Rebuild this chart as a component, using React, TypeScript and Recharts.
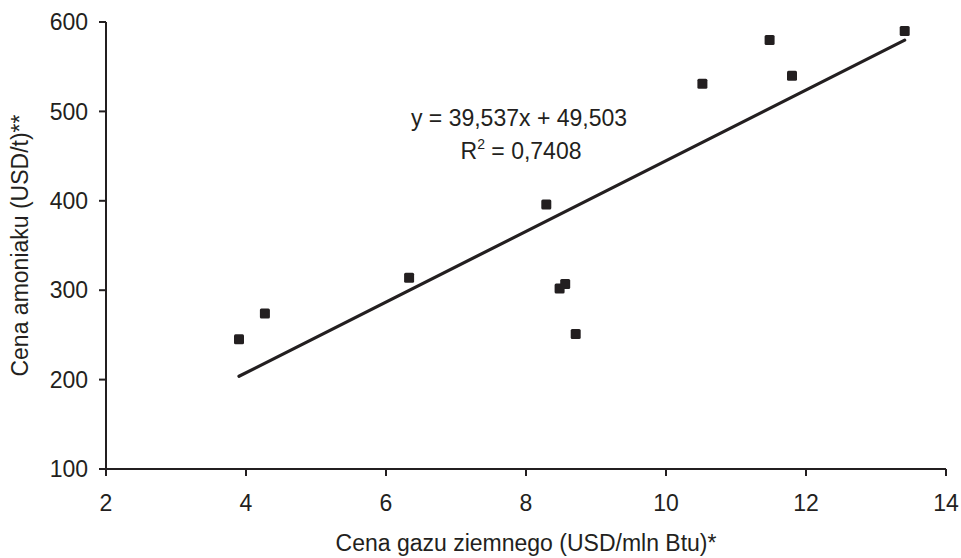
import {
    ScatterChart,
    Scatter,
    XAxis,
    YAxis,
    ReferenceLine,
    ReferenceDot
} from 'recharts';

const gasPrice = [3.9, 4.27, 6.33, 8.29, 8.48, 8.56, 8.71, 10.52, 11.48, 11.8, 13.41];
const ammoniaPrice = [245, 274, 314, 396, 302, 307, 251, 531, 580, 540, 590];

const xTicks = [2, 4, 6, 8, 10, 12, 14];
const yTicks = [100, 200, 300, 400, 500, 600];

const slope = 39.537;
const intercept = 49.503;
const equationText = 'y = 39,537x + 49,503';
const r2Text = ' = 0,7408';

const INK = '#231f20';
const FONT = '"Liberation Sans", Arial, sans-serif';
const FS = 23;

const data = gasPrice.map((x, i) => ({ x, y: ammoniaPrice[i] }));

const xMin = Math.min(...gasPrice);
const xMax = Math.max(...gasPrice);
const trend = [
    { x: xMin, y: slope * xMin + intercept },
    { x: xMax, y: slope * xMax + intercept },
];

const SquareDot = (props: any) => {
    const { cx, cy } = props;
    if (cx == null || cy == null) return null;
    return <rect x={cx - 5} y={cy - 5} width={10} height={10} rx={1.5} fill={INK} />;
};

const Equation = (props: any) => {
    const { cx, cy } = props;
    if (cx == null || cy == null) return null;
    return (
        <g fill={INK} fontFamily={FONT} fontSize={FS}>
            <text x={cx} y={cy} textAnchor="middle">{equationText}</text>
            <text x={cx + 2} y={cy + 33} textAnchor="middle">
                R<tspan fontSize={14} dy={-10}>2</tspan>
                <tspan dy={10}>{r2Text}</tspan>
            </text>
        </g>
    );
};

const App = () => {
    return (
        <div style={{ position: 'absolute', left: 0, top: 0, background: '#fff' }}>
            <ScatterChart
                width={961}
                height={558}
                margin={{ top: 22, right: 15, left: 0, bottom: 0 }}
                style={{ fontFamily: FONT }}
            >
                <XAxis
                    type="number"
                    dataKey="x"
                    domain={[2, 14]}
                    ticks={xTicks}
                    height={89}
                    stroke={INK}
                    strokeWidth={2}
                    tickSize={7}
                    tickMargin={19}
                    tick={{ fill: INK, fontSize: FS }}
                    label={{
                        value: 'Cena gazu ziemnego (USD/mln Btu)*',
                        position: 'insideBottom',
                        offset: 7,
                        fill: INK,
                        fontSize: FS,
                    }}
                />
                <YAxis
                    type="number"
                    dataKey="y"
                    domain={[100, 600]}
                    ticks={yTicks}
                    width={106}
                    stroke={INK}
                    strokeWidth={2}
                    tickSize={7}
                    tickMargin={11}
                    tick={{ fill: INK, fontSize: FS }}
                    label={{
                        value: 'Cena amoniaku (USD/t)**',
                        angle: -90,
                        position: 'insideLeft',
                        offset: 20,
                        fill: INK,
                        fontSize: FS,
                        style: { textAnchor: 'middle' },
                    }}
                />
                <ReferenceLine
                    segment={trend}
                    stroke={INK}
                    strokeWidth={3.2}
                    strokeLinecap="round"
                    ifOverflow="extendDomain"
                />
                <Scatter
                    data={data}
                    shape={<SquareDot />}
                    isAnimationActive={false}
                />
                <ReferenceDot x={7.9} y={484} r={0} shape={<Equation />} />
            </ScatterChart>
        </div>
    );
};

export default App;
